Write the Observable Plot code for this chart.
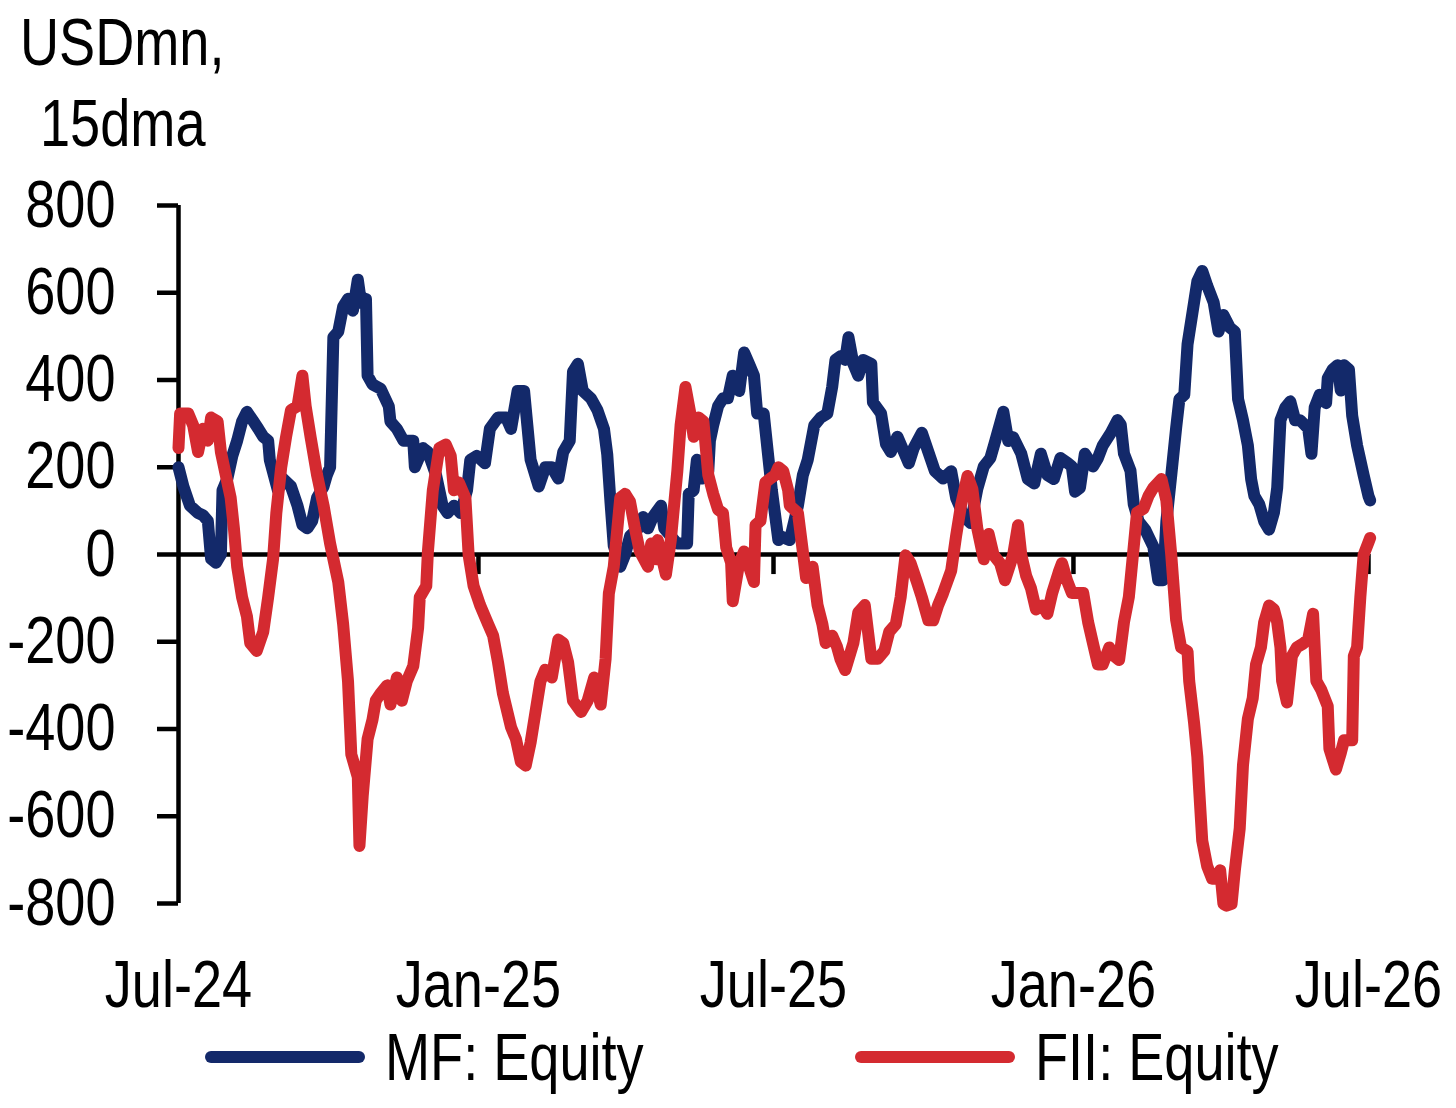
<!DOCTYPE html>
<html>
<head>
<meta charset="utf-8">
<script src="https://cdn.jsdelivr.net/npm/d3@7"></script>
<script src="https://cdn.jsdelivr.net/npm/@observablehq/plot@0.6"></script>
<style>
  body { margin: 0; background: #fff; }
  #wrap { position: relative; width: 1456px; height: 1108px; background: #fff; color: #000;
          font-family: "Liberation Sans", Arial, sans-serif; }
  .ttl { position: absolute; font-size: 66px; line-height: 66px; white-space: nowrap;
         transform: scaleX(0.82); transform-origin: 0 0; }
  #legend { position: absolute; left: 0; top: 1022px; width: 1456px; height: 70px; }
  .item { position: absolute; top: 0; height: 70px; display: flex; align-items: center; font-size: 66px; white-space: nowrap; }
  .sw { width: 160px; height: 12px; border-radius: 6px; margin-right: 20px; flex: none; }
  .lab { display: inline-block; transform: scaleX(0.82); transform-origin: 0 50%; }
</style>
</head>
<body>
<div id="wrap">
  <div id="chart"></div>
  <div class="ttl" style="left:20px;top:9px">USDmn,</div>
  <div class="ttl" style="left:40px;top:90px">15dma</div>
  <div id="legend"></div>
</div>
<script>
// Series names and colours
const seriesNames = ["MF: Equity", "FII: Equity"];
const seriesColors = ["#13296a", "#d42a30"];

// Days elapsed since 1 Jul 2024, and 15dma flows (USDmn)
const mfDays = [0,3,7,12,15,18,20,23,26,27,30,33,36,39,42,46,49,52,55,56,61,64,69,73,76,79,82,85,89,91,93,95,98,101,104,107,110,112,115,116,119,124,129,130,134,138,144,145,150,153,158,162,165,169,173,177,179,183,188,191,196,201,204,208,212,214,216,221,225,229,233,236,240,242,245,248,253,257,261,263,265,267,271,274,277,282,285,288,291,296,298,302,306,312,313,316,318,321,325,326,328,331,334,337,340,344,347,350,353,355,359,362,364,368,369,375,380,383,386,390,394,398,401,403,406,409,411,414,417,420,425,426,431,434,437,441,445,448,451,456,460,464,469,474,477,482,486,490,494,498,501,506,509,512,517,521,525,529,533,537,541,545,548,550,553,556,561,564,567,572,576,578,580,584,586,589,593,598,601,604,606,609,612,614,617,619,623,625,628,631,635,638,641,645,648,650,653,656,658,660,663,666,669,672,674,676,679,682,685,688,693,695,697,700,704,705,708,711,713,715,718,720,723,727,730,731];
const mfValues = [200,156,112,95,90,77,-10,-19,0,147,174,226,261,305,327,305,288,270,261,217,147,174,156,112,68,60,77,130,156,182,200,498,511,568,586,559,630,577,586,410,390,380,340,305,288,261,261,200,244,235,182,112,95,112,95,147,217,226,209,288,314,314,288,375,375,296,217,156,200,200,174,235,261,419,437,375,358,331,288,230,120,20,-28,0,42,60,86,60,86,112,60,42,25,25,139,147,217,174,191,261,296,340,358,358,410,375,463,437,410,323,323,217,147,33,42,33,112,182,217,296,314,323,384,446,454,446,498,437,410,446,437,349,323,253,235,270,235,209,244,279,235,191,174,191,130,86,72,150,202,221,260,327,260,269,231,173,163,231,182,173,221,211,202,144,153,231,202,221,250,279,308,298,231,192,115,76,57,18,-59,-59,76,182,290,356,366,482,578,626,650,617,578,511,549,520,511,356,308,250,173,134,115,76,57,96,153,308,337,351,308,308,289,231,337,366,347,404,424,434,376,434,424,318,250,182,134,124];

const fiiDays = [0,1,6,9,12,15,18,20,24,26,29,32,34,36,39,42,44,48,52,55,58,60,63,66,69,73,76,78,81,85,89,93,98,101,104,106,110,111,113,116,119,121,124,128,130,134,137,140,144,147,148,152,153,156,160,164,167,169,172,176,178,181,185,190,193,196,199,204,207,210,213,216,219,222,225,229,233,236,239,242,247,251,255,259,262,264,267,271,274,277,280,283,288,290,293,294,299,302,306,308,311,314,316,319,322,325,328,331,334,336,339,340,344,347,350,353,354,357,360,363,366,368,371,374,375,380,383,385,389,392,395,397,401,404,406,409,414,417,421,425,429,433,436,440,443,446,449,453,456,460,463,466,469,474,477,480,484,487,490,494,497,500,504,507,512,515,517,520,523,526,530,533,536,540,542,545,548,552,555,558,561,564,567,571,574,577,580,583,585,588,592,595,598,603,606,609,612,615,619,620,623,625,626,628,631,634,638,639,641,643,646,648,651,653,656,659,661,664,666,669,672,674,676,677,680,683,686,690,693,694,696,698,701,705,706,710,713,715,720,721,723,725,727,730,731];
const fiiValues = [244,323,323,296,235,288,261,314,305,235,182,130,60,-28,-98,-142,-203,-221,-177,-98,-11,95,200,270,331,340,410,340,270,182,112,25,-63,-160,-291,-458,-510,-668,-554,-423,-379,-335,-318,-300,-344,-282,-335,-291,-256,-168,-98,-72,7,147,244,252,226,147,165,130,-2,-72,-116,-160,-186,-247,-318,-396,-423,-475,-484,-431,-361,-291,-264,-282,-195,-203,-247,-335,-361,-335,-282,-344,-239,-89,-28,130,139,121,60,7,-28,25,-11,33,-46,33,191,296,384,323,270,314,305,182,139,103,95,16,-19,-107,-19,7,-28,-63,68,77,165,174,182,200,191,147,112,95,7,-54,-28,-116,-160,-203,-186,-212,-239,-265,-203,-133,-116,-239,-239,-221,-177,-160,-98,-2,-19,-63,-98,-151,-151,-116,-89,-37,42,112,180,150,60,-11,47,-1,-20,-59,-1,67,-1,-49,-78,-126,-117,-136,-88,-40,-20,-59,-88,-88,-88,-155,-204,-252,-252,-213,-233,-242,-155,-97,-20,96,105,134,153,173,124,-1,-150,-213,-222,-290,-386,-464,-531,-656,-714,-743,-743,-724,-801,-805,-801,-724,-628,-483,-377,-329,-252,-213,-155,-117,-126,-155,-213,-290,-339,-233,-213,-204,-194,-175,-136,-290,-310,-348,-445,-493,-455,-426,-426,-233,-213,-97,-1,28,38];

// Axis ticks
const yTicks = [-800,-600,-400,-200,0,200,400,600,800];
const xTickLabels = ["2024-07-01","2025-01-01","2025-07-01","2026-01-01","2026-07-01"];

const start = new Date(Date.UTC(2024, 6, 1));
const toDate = d => d3.utcDay.offset(start, d);
const xTicks = xTickLabels.map(s => new Date(s + "T00:00:00Z"));
const mf = mfDays.map((d, i) => ({date: toDate(d), value: mfValues[i]}));
const fii = fiiDays.map((d, i) => ({date: toDate(d), value: fiiValues[i]}));

const FONT = '"Liberation Sans", Arial, sans-serif';

const chart = Plot.plot({
  width: 1456,
  height: 1022,
  marginLeft: 178,
  marginRight: 88,
  marginTop: 205,
  marginBottom: 119,
  style: {fontFamily: FONT, fontSize: "66px", background: "white", color: "black", overflow: "visible"},
  x: {type: "utc", domain: [xTicks[0], xTicks[xTicks.length - 1]]},
  y: {domain: [-800, 800]},
  marks: [
    Plot.axisY({ticks: yTicks, tickFormat: d => String(d), tickSize: 21, tickPadding: 42, strokeWidth: 4.5, label: null}),
    Plot.axisX({ticks: xTicks, tickFormat: d3.utcFormat("%b-%y"), tickSize: 0, tickPadding: 57, label: null}),
    Plot.ruleX([xTicks[0]], {y1: -800, y2: 800, stroke: "black", strokeWidth: 4.5}),
    Plot.ruleY([0], {stroke: "black", strokeWidth: 4.5}),
    Plot.ruleX(xTicks.slice(1), {x: d => d, y1: 0, y2: -46, stroke: "black", strokeWidth: 4.5}),
    Plot.line(mf, {x: "date", y: "value", stroke: seriesColors[0], strokeWidth: 12, strokeLinejoin: "round", strokeLinecap: "round"}),
    Plot.line(fii, {x: "date", y: "value", stroke: seriesColors[1], strokeWidth: 12, strokeLinejoin: "round", strokeLinecap: "round"})
  ]
});

// Condense all chart texts horizontally (narrow sans look), keeping each anchor fixed
chart.querySelectorAll("text").forEach(t => {
  const xa = t.getAttribute("x");
  let extra = "";
  if (xa !== null && !isNaN(+xa)) { extra = `translate(${+xa},0) `; t.removeAttribute("x"); }
  const tr = t.getAttribute("transform") || "";
  t.setAttribute("transform", `${tr} ${extra}scale(0.82,1)`.trim());
});
document.getElementById("chart").appendChild(chart);

// Legend
const legend = document.getElementById("legend");
const legendLeft = [205, 855];
seriesNames.forEach((name, i) => {
  const item = document.createElement("div");
  item.className = "item";
  item.style.left = legendLeft[i] + "px";
  const sw = document.createElement("div");
  sw.className = "sw";
  sw.style.background = seriesColors[i];
  const label = document.createElement("span");
  label.className = "lab";
  label.textContent = name;
  item.appendChild(sw);
  item.appendChild(label);
  legend.appendChild(item);
});
</script>
</body>
</html>
